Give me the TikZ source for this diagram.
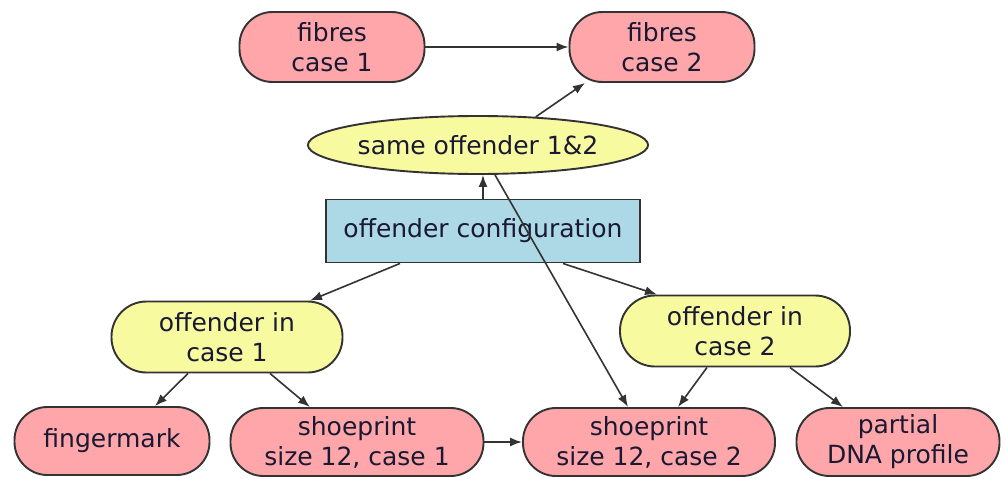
\documentclass[tikz,border=0pt]{standalone}
\usepackage{fontspec}
\setmainfont{DejaVu Sans}
\usetikzlibrary{shapes.geometric,arrows.meta,calc}
\definecolor{pinkfill}{RGB}{255,166,170}
\definecolor{yelfill}{RGB}{248,250,160}
\definecolor{bluefill}{RGB}{173,216,230}
\definecolor{txt}{RGB}{25,25,50}
\begin{document}
\begin{tikzpicture}[x=1pt,y=-1pt,
  every node/.style={font=\fontsize{25}{30}\selectfont, text=txt, align=center, inner sep=0pt, line width=1.9pt, draw=black!80},
  evid/.style={rectangle, rounded corners=33pt, fill=pinkfill, minimum height=68pt},
  hyp/.style={rectangle, rounded corners=35pt, fill=yelfill, minimum height=71pt},
  link/.style={ellipse, fill=yelfill},
  conf/.style={rectangle, fill=bluefill},
  arr/.style={-{Latex[length=12pt,width=9pt]}, line width=1.6pt, draw=black!80}]
\useasboundingbox (0,0) rectangle (1005,479);
\node[evid, minimum width=185pt, minimum height=70pt] (f1) at (332,47) {fibres\\case 1};
\node[evid, minimum width=185pt, minimum height=70pt] (f2) at (662,47) {fibres\\case 2};
\node[link, minimum width=327pt, minimum height=58pt] (same) at (478,145) {same offender 1\&2};
\node[conf, minimum width=314pt, minimum height=63pt] (config) at (483,231) {offender configuration};
\node[hyp, minimum width=231pt] (oc1) at (227,337) {offender in\\case 1};
\node[hyp, minimum width=230pt] (oc2) at (735,331) {offender in\\case 2};
\node[evid, minimum width=195pt] (fm) at (112,441) {fingermark};
\node[evid, minimum width=253pt] (sp1) at (357,442) {shoeprint\\size 12, case 1};
\node[evid, minimum width=252pt] (sp2) at (649,442) {shoeprint\\size 12, case 2};
\node[evid, minimum width=203pt] (dna) at (898,442) {partial\\DNA profile};

\draw[arr] (f1.east) -- (f2.west);
\draw[arr] (same.26) -- ([xshift=-77pt]f2.south);
\draw[arr] (config.north) -- (config.north |- same.south);
\draw[arr] ([xshift=17pt]same.south) -- ([xshift=-21pt]sp2.north);
\draw[arr] ([xshift=-83pt]config.south) -- ([xshift=83pt]oc1.north);
\draw[arr] ([xshift=80pt]config.south) -- ([xshift=-78pt]oc2.north);
\draw[arr] ([xshift=-39pt]oc1.south) -- ([xshift=43pt]fm.north);
\draw[arr] ([xshift=43pt]oc1.south) -- ([xshift=-47pt]sp1.north);
\draw[arr] (sp1.east) -- (sp2.west);
\draw[arr] ([xshift=-28pt]oc2.south) -- ([xshift=29pt]sp2.north);
\draw[arr] ([xshift=55pt]oc2.south) -- ([xshift=-55pt]dna.north);
\end{tikzpicture}
\end{document}
